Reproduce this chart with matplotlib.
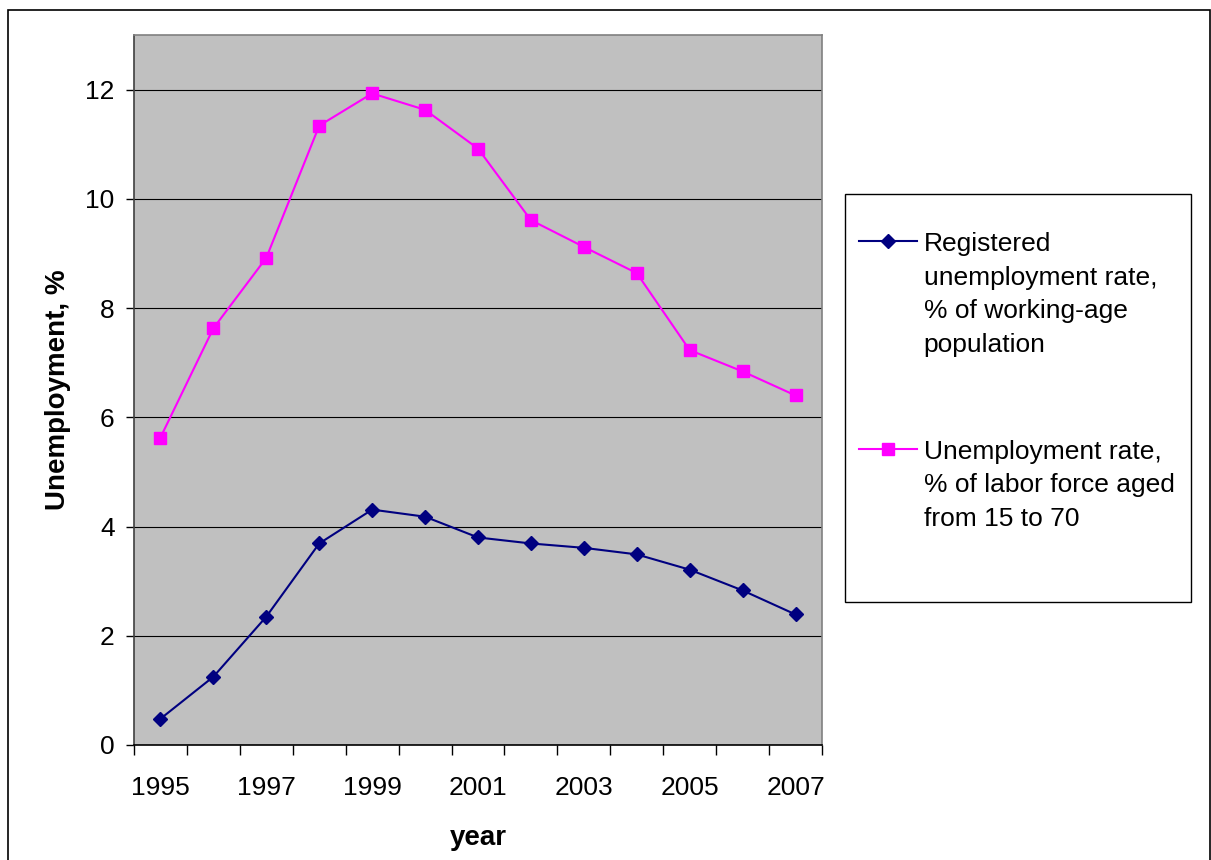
import matplotlib
matplotlib.use("Agg")
import matplotlib.pyplot as plt
from matplotlib.patches import Rectangle
from matplotlib.ticker import FixedLocator, NullFormatter

plt.rcParams['font.family'] = ['Liberation Sans', 'DejaVu Sans']

years = list(range(1995, 2008))
registered_rate = [0.48, 1.25, 2.35, 3.69, 4.31, 4.18, 3.80, 3.69, 3.61, 3.49, 3.21, 2.83, 2.39]
labor_force_rate = [5.63, 7.63, 8.92, 11.34, 11.93, 11.63, 10.92, 9.61, 9.12, 8.64, 7.23, 6.84, 6.40]

registered_label = "Registered\nunemployment rate,\n% of working-age\npopulation"
labor_label = "Unemployment rate,\n% of labor force aged\nfrom 15 to 70"

FS = 19
LABEL_FS = 20

fig = plt.figure(figsize=(12.11, 8.6), dpi=100)
W, H = 1211, 860

def px_rect(x0, y0, x1, y1):
    # pixel box (top-left origin) -> figure fraction [left, bottom, width, height]
    return [x0 / W, 1 - y1 / H, (x1 - x0) / W, (y1 - y0) / H]

# chart area border
fig.patches.append(Rectangle((8 / W, -0.05), (1210 - 8) / W, 1 - 10 / H + 0.05,
                             transform=fig.transFigure, fill=False,
                             edgecolor='black', linewidth=1.2, zorder=0))

ax = fig.add_axes(px_rect(134, 35, 822, 745))
ax.set_facecolor('#C0C0C0')

x = list(range(len(years)))
ax.plot(x, registered_rate, color='#000080', linewidth=1.5, marker='D',
        markersize=7.5, label=registered_label, zorder=3)
ax.plot(x, labor_force_rate, color='#FF00FF', linewidth=1.5, marker='s',
        markersize=8.5, label=labor_label, zorder=3)

ax.set_xlim(-0.5, len(years) - 0.5)
ax.set_ylim(0, 13)

ax.set_yticks(range(0, 13, 2))
ax.yaxis.grid(True, color='black', linewidth=0.8)
ax.set_axisbelow(True)
ax.tick_params(axis='y', direction='out', length=6, width=1, pad=8, labelsize=FS)

# category labels every other year, tick marks on category boundaries
ax.set_xticks(x[::2])
ax.set_xticklabels([str(y) for y in years[::2]])
ax.xaxis.set_minor_locator(FixedLocator([i - 0.5 for i in range(len(years) + 1)]))
ax.xaxis.set_minor_formatter(NullFormatter())
ax.tick_params(axis='x', which='major', length=0, pad=22, labelsize=FS)
ax.tick_params(axis='x', which='minor', direction='out', length=7, width=1)

for side in ['top', 'right']:
    ax.spines[side].set_color('#808080')
    ax.spines[side].set_linewidth(1.2)
ax.spines['left'].set_color('#404040')
ax.spines['bottom'].set_color('black')
ax.spines['left'].set_linewidth(1.2)
ax.spines['bottom'].set_linewidth(1.2)

ax.set_ylabel("Unemployment, %", fontsize=LABEL_FS, fontweight='bold', labelpad=10)
ax.set_xlabel("year", fontsize=LABEL_FS, fontweight='bold', labelpad=18)

# legend box drawn separately, entries inside without frame
fig.patches.append(Rectangle((845 / W, 1 - 602 / H), (1191 - 845) / W, (602 - 194) / H,
                             transform=fig.transFigure, facecolor='white',
                             edgecolor='black', linewidth=1.0, zorder=1))
leg = fig.legend(loc='upper left', bbox_to_anchor=(859 / W, 1 - 232 / H),
                 frameon=False, handlelength=2.2, handletextpad=0.25,
                 labelspacing=3.15, borderaxespad=0, borderpad=0,
                 prop={'size': FS})
for t in leg.get_texts():
    t.set_linespacing(1.5)
# put each marker beside the first line of its label
for column in leg._legend_handle_box.get_children():
    for row in column.get_children():
        row.align = "top"

fig.savefig("out.png", dpi=100)
